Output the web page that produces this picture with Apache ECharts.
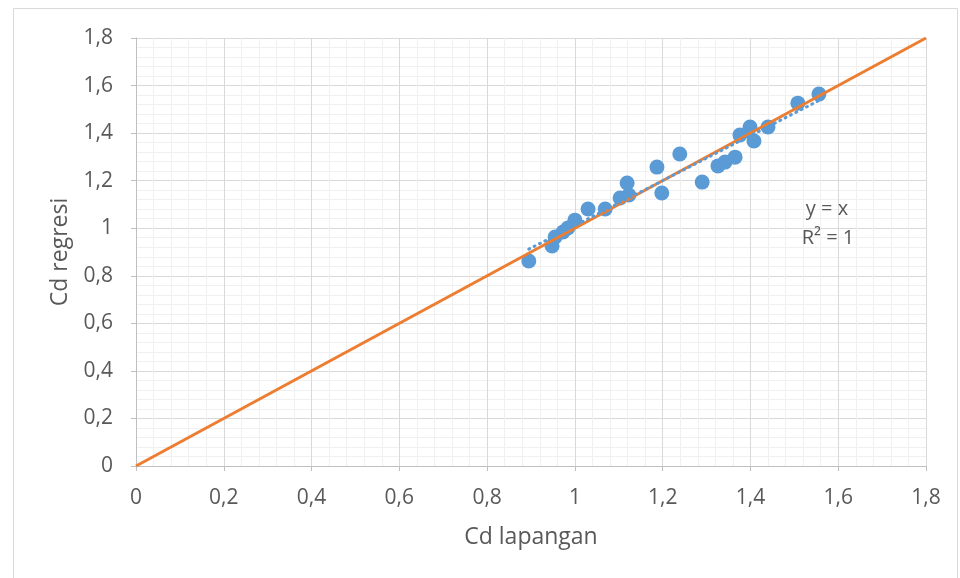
<!DOCTYPE html>
<html><head><meta charset="utf-8">
<script src="https://cdn.jsdelivr.net/npm/echarts@6/dist/echarts.min.js"></script>
<style>html,body{margin:0;padding:0;background:#fff}#c{width:960px;height:578px}</style>
</head><body><div id="c"></div>
<script>
// Data
var cdLapangan = [0.895, 0.948, 0.955, 0.973, 0.984, 1.000, 1.030, 1.069, 1.103, 1.119, 1.123, 1.187, 1.198,
                  1.239, 1.290, 1.326, 1.342, 1.365, 1.376, 1.399, 1.408, 1.440, 1.508, 1.556];
var cdRegresi  = [0.862, 0.925, 0.963, 0.984, 1.001, 1.034, 1.081, 1.081, 1.127, 1.190, 1.140, 1.257, 1.148,
                  1.312, 1.194, 1.262, 1.278, 1.299, 1.392, 1.426, 1.367, 1.426, 1.526, 1.564];
var identityLine = [[0, 0], [1.8, 1.8]];
var axisTicks = [0, 0.2, 0.4, 0.6, 0.8, 1, 1.2, 1.4, 1.6, 1.8];
var xTitle = 'Cd lapangan';
var yTitle = 'Cd regresi';
var eqText = ['y = x', 'R² = 1'];

var pts = cdLapangan.map(function(x, i){ return [x, cdRegresi[i]]; });
// least-squares trendline of the scatter series
var n = pts.length, sx=0, sy=0, sxx=0, sxy=0;
pts.forEach(function(p){ sx+=p[0]; sy+=p[1]; sxx+=p[0]*p[0]; sxy+=p[0]*p[1]; });
var slope = (n*sxy - sx*sy)/(n*sxx - sx*sx), icpt = (sy - slope*sx)/n;
var xMin = Math.min.apply(null, cdLapangan), xMax = Math.max.apply(null, cdLapangan);
var trend = [[xMin, icpt + slope*xMin], [xMax, icpt + slope*xMax]];

function fmt(v){ return String(+v.toFixed(1)).replace('.', ','); }
var FONT = 'Open Sans';
function axisCommon(){
  return {
    type:'value', min:axisTicks[0], max:axisTicks[axisTicks.length-1], interval:0.2,
    axisLine:{show:true, lineStyle:{color:'#BFBFBF', width:1}},
    axisTick:{show:true, length:5, lineStyle:{color:'#BFBFBF'}},
    splitLine:{show:true, lineStyle:{color:'#D9D9D9', width:1}},
    minorTick:{show:false, splitNumber:5},
    minorSplitLine:{show:true, lineStyle:{color:'#F0F0F0', width:1}},
    axisLabel:{color:'#595959', fontSize:21, fontFamily:FONT, formatter:fmt}
  };
}
var xa = axisCommon();
xa.name = xTitle; xa.nameLocation='middle'; xa.nameGap=60;
xa.nameTextStyle = {color:'#595959', fontSize:23, fontFamily:FONT};
xa.axisLabel.margin = 22;
var ya = axisCommon();
ya.name = yTitle; ya.nameLocation='middle'; ya.nameGap=64; ya.nameRotate=90;
ya.nameTextStyle = {color:'#595959', fontSize:23, fontFamily:FONT};
ya.axisLabel.margin = 23;

var chart = echarts.init(document.getElementById('c'), null, {renderer:'canvas'});
chart.setOption({
  animation:false,
  backgroundColor:'#fff',
  grid:{left:136, right:34, top:38, bottom:112, containLabel:false},
  xAxis: xa,
  yAxis: ya,
  graphic:[
    {type:'rect', shape:{x:13.5, y:8.5, width:944, height:575}, style:{fill:null, stroke:'#D9D9D9', lineWidth:1}, silent:true, z:-1},
    {type:'text', x:827, y:209, style:{text:eqText[0], fill:'#595959', fontSize:20, fontFamily:FONT, align:'center', verticalAlign:'middle'}, z:10},
    {type:'text', x:828, y:238, style:{text:eqText[1], fill:'#595959', fontSize:20, fontFamily:FONT, align:'center', verticalAlign:'middle'}, z:10}
  ],
  series:[
    {type:'scatter', data:pts, symbol:'circle', symbolSize:15, itemStyle:{color:'#5B9BD5', opacity:1}, z:2},
    {type:'line', data:identityLine, symbol:'none', lineStyle:{color:'#ED7D31', width:3}, z:3},
    {type:'line', data:trend, symbol:'none', lineStyle:{color:'#5B9BD5', width:3, type:[1,5], cap:'round'}, z:4}
  ]
});
</script></body></html>
